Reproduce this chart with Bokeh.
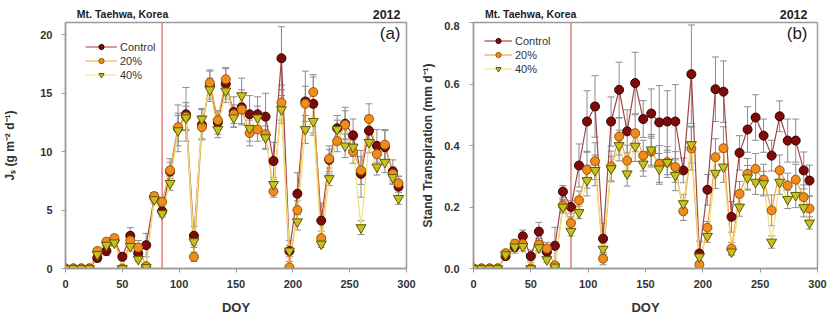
from bokeh.plotting import figure
from bokeh.layouts import row, column
from bokeh.models import (ColumnDataSource, Whisker, TeeHead, Span, Label, Legend,
                          LegendItem, FixedTicker, PrintfTickFormatter, Range1d)
from bokeh.core.properties import value
from bokeh.embed import file_html
from bokeh.resources import INLINE

# ---------------- data ----------------
doy = [0, 7, 14, 21, 28, 36, 43, 50, 57, 64, 71, 78, 85, 92, 99, 106, 113, 120, 127, 134,
       141, 148, 155, 162, 169, 176, 183, 190, 197, 204, 211, 218, 225, 232, 239, 246, 253,
       260, 267, 274, 281, 288, 293]

# (a) sap flux density Js (g m-2 d-1)
js_control = [0, 0, 0, 0, 0.9, 1.5, 2.4, 1.0, 2.8, 1.3, 2.0, 6.1, 4.9, 8.3, 12.0, 13.2, 2.8, 12.3,
              15.7, 12.5, 15.8, 13.4, 13.8, 13.2, 13.2, 13.0, 9.2, 18.0, 1.5, 6.4, 14.3, 14.1, 4.1,
              9.3, 12.0, 12.4, 11.4, 8.1, 11.8, 10.5, 10.4, 8.3, 7.0]
js_20 = [0, 0, 0, 0, 1.5, 2.3, 2.6, 0.0, 2.4, 1.8, 0.2, 6.2, 5.7, 8.4, 12.1, 13.0, 1.0, 12.1,
         15.9, 12.7, 16.2, 13.2, 13.6, 11.6, 11.9, 11.5, 6.6, 14.2, 0.1, 5.0, 14.1, 15.1, 2.6,
         9.4, 10.9, 12.3, 10.0, 8.4, 12.8, 9.8, 10.6, 8.1, 7.3]
js_40 = [0, 0, 0, 0, 1.2, 2.0, 2.2, 0.0, 1.9, 0.8, 0.1, 5.9, 4.7, 7.3, 11.8, 12.9, 2.3, 12.8,
         15.3, 11.9, 15.2, 12.9, 14.8, 12.0, 12.9, 11.2, 7.2, 13.6, 1.5, 4.0, 11.9, 12.6, 2.1,
         7.7, 11.9, 10.5, 10.4, 3.5, 10.8, 8.7, 9.1, 7.8, 6.0]
js_control_err = [0, 0, 0, 0, 0.3, 0.4, 0.4, 0.3, 0.7, 0.5, 1.0, 0.4, 0.4, 1.1, 2.0, 2.3, 0.8, 1.3,
                  1.2, 1.0, 1.3, 1.3, 1.5, 1.6, 1.5, 2.0, 1.6, 2.7, 0.9, 1.8, 2.6, 2.5, 1.5, 1.2,
                  1.1, 1.4, 1.4, 2.0, 1.3, 1.4, 1.4, 1.0, 0.9]
js_20_err = [0, 0, 0, 0, 0.2, 0.3, 0.3, 0.1, 0.5, 0.6, 0.2, 0.3, 0.4, 0.7, 1.2, 1.2, 0.4, 1.0,
             1.1, 0.8, 1.0, 0.8, 1.2, 1.1, 1.0, 1.2, 0.5, 1.5, 0.2, 0.8, 1.5, 1.3, 0.6, 0.8,
             0.9, 1.2, 1.0, 1.2, 1.3, 0.9, 1.3, 0.6, 0.6]
js_40_err = [0, 0, 0, 0, 0.2, 0.3, 0.3, 0.1, 0.4, 0.2, 0.1, 0.3, 0.3, 0.6, 1.3, 1.0, 0.5, 0.9,
             1.0, 0.7, 1.0, 0.8, 1.5, 1.1, 1.0, 1.0, 0.6, 1.2, 0.5, 0.7, 1.2, 1.2, 0.3, 0.6,
             0.8, 1.0, 0.8, 0.6, 0.9, 0.7, 0.9, 0.6, 0.5]

# (b) stand transpiration (mm d-1)
st_control = [0, 0, 0, 0, 0.04, 0.07, 0.105, 0.04, 0.12, 0.054, 0.074, 0.25, 0.20, 0.335, 0.478,
              0.527, 0.097, 0.478, 0.581, 0.446, 0.603, 0.486, 0.504, 0.475, 0.478, 0.478, 0.319,
              0.632, 0.049, 0.256, 0.583, 0.575, 0.168, 0.376, 0.452, 0.491, 0.432, 0.367, 0.495,
              0.416, 0.416, 0.319, 0.286]
st_20 = [0, 0, 0, 0, 0.05, 0.08, 0.08, 0.0, 0.078, 0.065, 0.01, 0.205, 0.148, 0.222, 0.321,
         0.349, 0.032, 0.332, 0.429, 0.351, 0.44, 0.367, 0.38, 0.34, 0.346, 0.33, 0.186, 0.39,
         0.013, 0.133, 0.362, 0.391, 0.065, 0.243, 0.308, 0.324, 0.289, 0.189, 0.319, 0.27,
         0.289, 0.232, 0.195]
st_40 = [0, 0, 0, 0, 0.045, 0.07, 0.072, 0.0, 0.068, 0.029, 0.005, 0.20, 0.121, 0.182, 0.286,
         0.319, 0.063, 0.325, 0.40, 0.308, 0.398, 0.34, 0.386, 0.324, 0.345, 0.303, 0.211, 0.403,
         0.038, 0.105, 0.31, 0.33, 0.054, 0.20, 0.295, 0.281, 0.276, 0.086, 0.281, 0.225, 0.238,
         0.198, 0.148]
st_control_err = [0, 0, 0, 0, 0.01, 0.02, 0.02, 0.02, 0.03, 0.015, 0.06, 0.02, 0.02, 0.07, 0.10,
                  0.10, 0.05, 0.08, 0.09, 0.07, 0.10, 0.06, 0.08, 0.12, 0.10, 0.12, 0.04, 0.16,
                  0.04, 0.05, 0.105, 0.10, 0.05, 0.056, 0.074, 0.074, 0.054, 0.05, 0.05, 0.07,
                  0.07, 0.06, 0.05]
st_20_err = [0, 0, 0, 0, 0.01, 0.015, 0.015, 0.01, 0.02, 0.02, 0.01, 0.02, 0.02, 0.03, 0.06, 0.06,
             0.02, 0.05, 0.06, 0.05, 0.06, 0.05, 0.05, 0.06, 0.05, 0.05, 0.03, 0.07, 0.01, 0.02,
             0.06, 0.07, 0.02, 0.04, 0.05, 0.05, 0.05, 0.05, 0.05, 0.04, 0.05, 0.04, 0.04]
st_40_err = [0, 0, 0, 0, 0.01, 0.015, 0.015, 0.005, 0.015, 0.01, 0.005, 0.02, 0.015, 0.02, 0.05,
             0.05, 0.02, 0.04, 0.05, 0.04, 0.05, 0.04, 0.05, 0.05, 0.04, 0.05, 0.03, 0.06, 0.02,
             0.02, 0.05, 0.05, 0.01, 0.03, 0.04, 0.04, 0.04, 0.02, 0.04, 0.03, 0.04, 0.03, 0.02]

series_names = ["Control", "20%", "40%"]
x_ticks = [0, 50, 100, 150, 200, 250, 300]
ya_ticks = [0, 5, 10, 15, 20]
yb_ticks = [0.0, 0.2, 0.4, 0.6, 0.8]
site_text = "Mt. Taehwa, Korea"
year_text = "2012"
treatment_doy = 85

# ---------------- style ----------------
FONT = "Liberation Sans"
GREY = "#9a9a9a"
marker_fill = ["#7d0b0b", "#f08c1e", "#c8c020"]
marker_line = ["#3c0000", "#9a5200", "#5e5a00"]
line_col = ["#a04545", "#f2a24a", "#ece27a"]
markers = ["circle", "circle", "inverted_triangle"]
msize = [9, 9, 10]

TITLE_H = 21
MAIN_H = 299


def title_fig(width, bl, br, year_dx):
    t = figure(width=width, height=TITLE_H, min_border_left=bl, min_border_right=br,
               min_border_top=0, min_border_bottom=0, x_range=Range1d(0, 300),
               y_range=Range1d(0, TITLE_H), x_axis_type=None, y_axis_type=None,
               output_backend="svg", toolbar_location=None)
    t.outline_line_color = None
    t.background_fill_color = "white"
    t.border_fill_color = "white"
    t.text(x=[10], y=[7.5], text=[site_text], text_font=value(FONT),
           text_font_style="bold", text_font_size="10.5px", text_color="#222222",
           text_baseline="middle", text_align="left")
    t.text(x=[300], y=[7.5], text=[year_text], x_offset=year_dx, text_font=value(FONT),
           text_font_style="bold", text_font_size="12.5px", text_color="#222222",
           text_baseline="middle", text_align="right")
    return t


def panel(vals, errs, ymax, yticks, ylabel, tag, width, bl, br, tick_standoff, lab_standoff,
          leg_xy, glyph_w, tag_dx, fmt=None):
    p = figure(width=width, height=MAIN_H, min_border_left=bl, min_border_right=br,
               min_border_top=1, min_border_bottom=52,
               x_range=Range1d(0, 300), y_range=Range1d(0, ymax),
               output_backend="svg", toolbar_location=None)
    p.xgrid.visible = False
    p.ygrid.visible = False
    p.outline_line_color = GREY
    p.outline_line_width = 1.5
    p.background_fill_color = "white"
    p.border_fill_color = "white"

    p.xaxis.ticker = FixedTicker(ticks=x_ticks)
    p.yaxis.ticker = FixedTicker(ticks=yticks)
    if fmt:
        p.yaxis.formatter = PrintfTickFormatter(format=fmt)
    p.xaxis.axis_label = "DOY"
    p.yaxis.axis_label = ylabel
    for ax in (p.xaxis[0], p.yaxis[0]):
        ax.axis_line_color = GREY
        ax.axis_line_width = 1.5
        ax.major_tick_line_color = GREY
        ax.major_tick_out = 4
        ax.major_tick_in = 0
        ax.minor_tick_line_color = None
        ax.major_label_text_font = FONT
        ax.major_label_text_font_style = "bold"
        ax.major_label_text_font_size = "11px"
        ax.major_label_text_color = "#333333"
        ax.axis_label_text_font = FONT
        ax.axis_label_text_font_style = "bold"
        ax.axis_label_text_color = "#333333"
    p.xaxis.major_label_standoff = 7
    p.xaxis.axis_label_standoff = 9
    p.xaxis.axis_label_text_font_size = "13px"
    p.yaxis.major_label_standoff = tick_standoff
    p.yaxis.axis_label_standoff = lab_standoff
    p.yaxis.axis_label_text_font_size = "12px"

    span = Span(location=treatment_doy, dimension="height", line_color="#e07b7b",
                line_width=1.5, level="underlay")
    p.add_layout(span)

    items = []
    line_rs = []
    for i in range(3):
        lr = p.line(doy, vals[i], line_color=line_col[i], line_width=1.2)
        line_rs.append(lr)
    for i in range(3):
        up = [v + e for v, e in zip(vals[i], errs[i])]
        lo = [v - e for v, e in zip(vals[i], errs[i])]
        src = ColumnDataSource(dict(x=doy, y=vals[i], up=up, lo=lo))
        w = Whisker(source=src, base="x", upper="up", lower="lo", line_color="#8c8c8c",
                    line_width=1,
                    upper_head=TeeHead(size=7, line_color="#8c8c8c", line_width=1),
                    lower_head=TeeHead(size=7, line_color="#8c8c8c", line_width=1),
                    level="underlay")
        p.add_layout(w)
        sr = p.scatter("x", "y", source=src, marker=markers[i], size=msize[i],
                       fill_color=marker_fill[i], line_color=marker_line[i], line_width=1)
        items.append(LegendItem(label=series_names[i], renderers=[line_rs[i], sr]))

    leg = Legend(items=items, location=leg_xy, padding=0, margin=0, spacing=1,
                 glyph_width=glyph_w, glyph_height=13, label_height=13, label_standoff=3,
                 label_text_font=FONT, label_text_font_size="11px",
                 label_text_color="#333333", border_line_alpha=0, background_fill_alpha=0)
    p.add_layout(leg, "center")

    p.add_layout(Label(x=300, y=ymax, x_offset=tag_dx, y_offset=-11, text=tag,
                       text_font=FONT, text_font_size="17px", text_color="#222222",
                       text_baseline="middle", text_align="right"))
    return p


ta = title_fig(418, 65, 12, -6)
pa = panel([js_control, js_20, js_40], [js_control_err, js_20_err, js_40_err], 21.06, ya_ticks,
           "Jₛ (g m⁻² d⁻¹)", "(a)", 418, 65, 12, 9, 20, (20, 187), 32, -6)
tb = title_fig(416, 53, 17, -10)
pb = panel([st_control, st_20, st_40], [st_control_err, st_20_err, st_40_err], 0.8, yb_ticks,
           "Stand Transpiration (mm d⁻¹)", "(b)", 416, 53, 17, 10, 6, (11, 193), 28, -10,
           fmt="%.1f")

layout = row(column(ta, pa), column(tb, pb))
open("out.html", "w").write(file_html(layout, INLINE))
